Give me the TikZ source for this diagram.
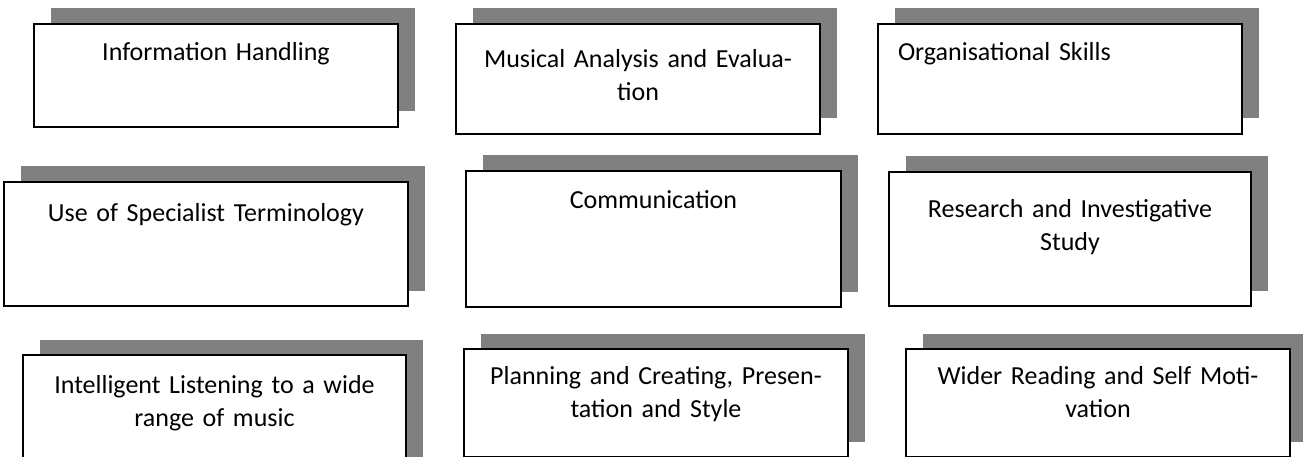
\documentclass[tikz,border=0pt]{standalone}
\usepackage{fontspec}
\setmainfont{Carlito}
\usetikzlibrary{shadows}

\tikzset{
  skillbox/.style n args={3}{draw, line width=2pt, fill=white, anchor=north west,
    inner xsep=0pt, inner ysep=0pt, align=center,
    text width=#1, text height=#2, text depth=#3,
    font=\fontsize{26}{33}\selectfont,
    drop shadow={shadow xshift=16.5pt, shadow yshift=15.5pt, fill=black!50, opacity=1}}
}

\begin{document}
\begin{tikzpicture}[x=1pt, y=-1pt]
    \useasboundingbox (0, 0) rectangle (1303, 457);
    \clip (0, 0) rectangle (1303, 457);

    % top row
    \node[skillbox={364pt}{37pt}{66pt}](info) at (33, 23) {Information Handling};
    \node[skillbox={364pt}{44pt}{66pt}](analysis) at (455, 23) {Musical Analysis and Evalua-\\tion};
    \node[skillbox={324pt}{37pt}{73pt}, inner xsep=20pt, align=left](organise) at (877, 23) {Organisational Skills};

    % middle row
    \node[skillbox={404pt}{40pt}{84pt}](terms) at (3, 181) {Use of Specialist Terminology};
    \node[skillbox={375pt}{37pt}{99pt}](comm) at (465, 170) {Communication};
    \node[skillbox={362pt}{45pt}{89pt}](research) at (888, 171) {Research and Investigative\\Study};

    % bottom row
    \node[skillbox={383pt}{38pt}{82pt}](listen) at (22, 354) {Intelligent Listening to a wide\\range of music};
    \node[skillbox={384pt}{35pt}{73pt}](plan) at (463, 348) {Planning and Creating, Presen-\\tation and Style};
    \node[skillbox={384pt}{35pt}{73pt}](reading) at (905, 348) {Wider Reading and Self Moti-\\vation};
  \end{tikzpicture}
\end{document}
